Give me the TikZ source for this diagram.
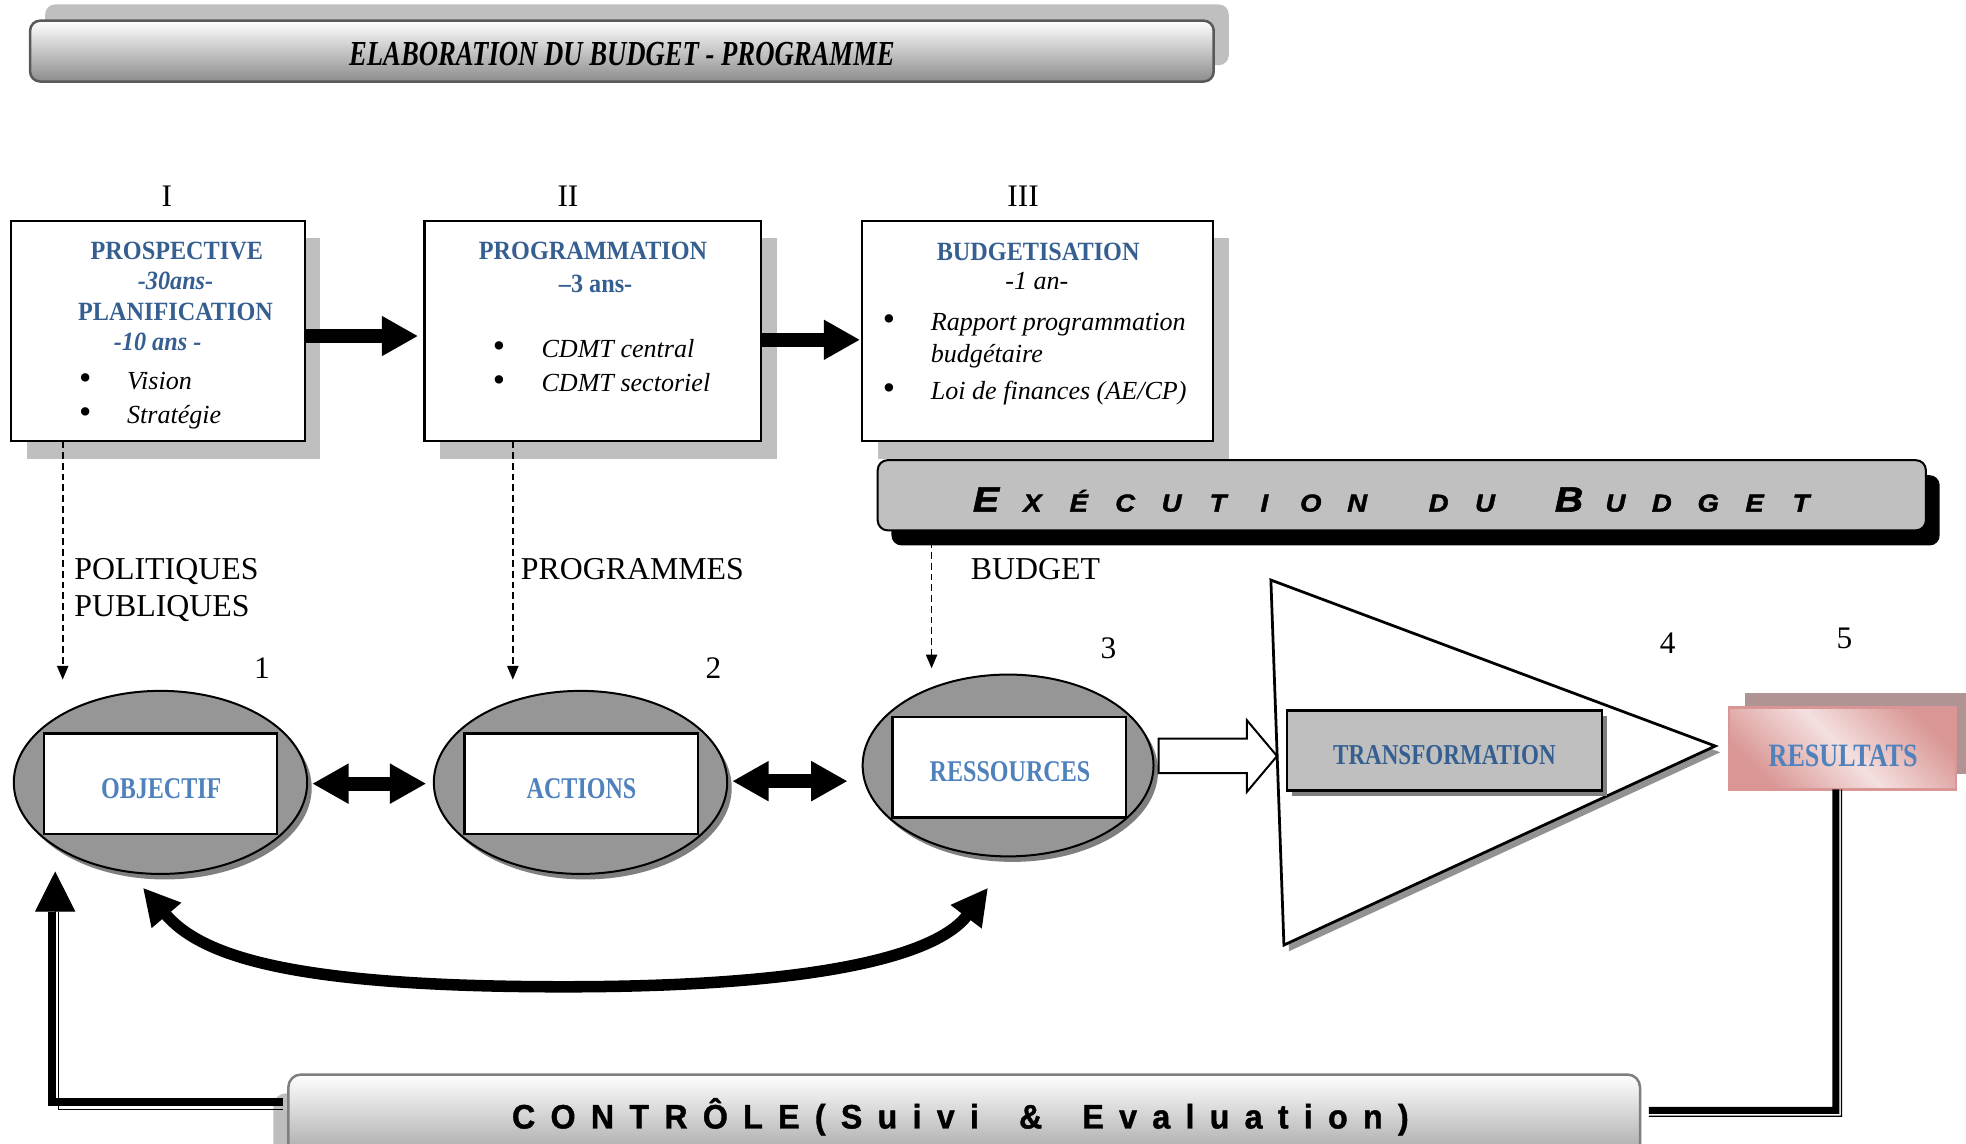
\documentclass[tikz,border=0pt]{standalone}
\usepackage{fontspec}
\usepackage{graphicx}
\setmainfont{Liberation Serif}
\newfontfamily\hdfont[FakeStretch=0.92]{Liberation Serif}
\newfontfamily\cdfont[FakeStretch=0.8]{Liberation Serif}
\newfontfamily\ttlfont[FakeStretch=0.76]{Liberation Serif}
\newfontfamily\bnfont[FakeStretch=1.12,FakeBold=1.6]{Liberation Sans}
\newfontfamily\ctfont[FakeStretch=0.95,FakeBold=1.2]{Liberation Sans}
\usetikzlibrary{arrows.meta,shadows,calc,shapes.geometric}

\definecolor{headblue}{RGB}{54,95,145}
\definecolor{lblue}{RGB}{79,129,189}
\definecolor{ovalgray}{RGB}{150,150,150}
\definecolor{shadegray}{RGB}{191,191,191}
\definecolor{midgray}{RGB}{127,127,127}
\definecolor{bargray}{RGB}{192,192,192}
\definecolor{edgegray}{RGB}{89,89,89}
\definecolor{pinkedge}{RGB}{217,150,148}
\definecolor{pinklight}{RGB}{244,224,223}
\definecolor{pinkshadow}{RGB}{176,148,148}

% letters set on a fixed pitch, or with a fixed tracking
\makeatletter
\newcommand\spreadword[2]{\@tfor\sw@ch:=#2\do{\makebox[#1][c]{\sw@ch}}}
\newcommand\trackword[2]{\@tfor\sw@ch:=#2\do{\sw@ch\kern#1}}
\makeatother
\newcommand\exebig{\fontsize{14}{16}\selectfont}

\tikzset{
  titlebar/.style={draw=edgegray, line width=1pt, rounded corners=4pt,
    top color=white, bottom color={rgb,255:red,140;green,140;blue,140},
    inner sep=0pt, outer sep=0pt,
    drop shadow={shadow xshift=6pt, shadow yshift=6.5pt, fill=shadegray, opacity=1}},
  stagebox/.style={draw, line width=0.9pt, fill=white, inner sep=0pt, outer sep=0pt,
    drop shadow={shadow xshift=6.25pt, shadow yshift=-7pt, fill=shadegray, opacity=1}},
  exebar/.style={draw, line width=0.8pt, rounded corners=4pt, fill=bargray,
    inner sep=0pt, outer sep=0pt, minimum width=418pt, minimum height=28pt,
    drop shadow={shadow xshift=5.5pt, shadow yshift=-6pt, fill=black, opacity=1}},
  ctrlbar/.style={draw=midgray, line width=1pt, rounded corners=5pt,
    top color=white, bottom color={rgb,255:red,150;green,150;blue,150},
    inner sep=0pt, outer sep=0pt, minimum width=539pt, minimum height=39pt,
    drop shadow={shadow xshift=-6pt, shadow yshift=-7.5pt, fill=midgray, opacity=0.5}},
  ovalnode/.style={ellipse, draw, line width=0.8pt, fill=ovalgray, inner sep=0pt, outer sep=0pt,
    minimum width=117pt, minimum height=73pt,
    drop shadow={shadow xshift=1.8pt, shadow yshift=-2.2pt, fill=midgray, opacity=1}},
  innerbox/.style={draw, line width=1pt, fill=white, inner sep=0pt, outer sep=0pt,
    minimum width=93pt, minimum height=40pt},
  transbox/.style={draw, line width=1.1pt, fill=shadegray, inner sep=0pt, outer sep=0pt,
    minimum width=125.6pt, minimum height=31.9pt,
    drop shadow={shadow xshift=2pt, shadow yshift=-2.2pt, fill=midgray, opacity=1}},
  resbox/.style={draw=pinkedge, line width=1.1pt, inner sep=0pt, outer sep=0pt,
    minimum width=90.5pt, minimum height=32.5pt,
    top color=pinkedge, bottom color=pinkedge, middle color=pinklight, shading angle=-45,
    drop shadow={shadow xshift=6.5pt, shadow yshift=6pt, fill=pinkshadow, opacity=1}},
  heading/.style={anchor=base, inner sep=0pt, text=headblue,
    font=\hdfont\bfseries\fontsize{10.5}{12}\selectfont},
  subhead/.style={heading, font=\hdfont\bfseries\itshape\fontsize{10.5}{12}\selectfont},
  itemtext/.style={anchor=base west, inner sep=0pt, font=\itshape\fontsize{10.4}{12}\selectfont},
  bulletmark/.style={anchor=base, inner sep=0pt, font=\fontsize{14}{16}\selectfont},
  plainlabel/.style={anchor=base west, inner sep=0pt, font=\fontsize{12.7}{14}\selectfont},
  numlabel/.style={anchor=base, inner sep=0pt, font=\fontsize{12.5}{14}\selectfont},
  ovallabel/.style={anchor=base, inner sep=0pt, text=lblue,
    font=\cdfont\bfseries\fontsize{12}{14}\selectfont},
  fatarrow/.style={line width=5.5pt, -{Triangle[length=14.5pt,width=15pt]}},
  dblarrow/.style={line width=5.5pt,
    {Triangle[length=14.5pt,width=15pt]}-{Triangle[length=14.5pt,width=15pt]}},
  dashlink/.style={line width=0.65pt, dash pattern=on 2.7pt off 1.6pt,
    -{Triangle[length=5.5pt,width=4.5pt]}},
  cyclearrow/.style={line width=4.6pt,
    {Triangle[length=14.5pt,width=14.5pt]}-{Triangle[length=14.5pt,width=14.5pt]}},
  thickret/.style={line width=2.8pt},
  thinret/.style={line width=0.5pt},
}

\begin{document}
\begin{tikzpicture}[x=0.5pt, y=-0.5pt]
\fill[white] (0,0) rectangle (1568,912);
\useasboundingbox (0,0) rectangle (1568,912);

% ---- title banner
\node[titlebar, minimum width=472pt, minimum height=24.25pt] (ttl) at (496,40.75) {};
\node[anchor=base, inner sep=0pt, font=\ttlfont\bfseries\itshape\fontsize{14}{16}\selectfont]
  (ttltxt) at (496,52) {ELABORATION DU BUDGET - PROGRAMME};

% ---- phase numbers
\node[numlabel] (rI) at (133,165) {I};
\node[numlabel] (rII) at (453,165) {II};
\node[numlabel] (rIII) at (816,165) {III};

% ---- the three preparation stages
\node[stagebox, minimum width=117pt, minimum height=88pt] (b1) at (126,264) {};
\node[stagebox, minimum width=134.25pt, minimum height=88pt] (b2) at (472.75,264) {};
\node[stagebox, minimum width=140pt, minimum height=88pt] (b3) at (827.5,264) {};

\node[heading] (b1h1) at (141,207) {PROSPECTIVE};
\node[subhead] (b1h2) at (140,230.5) {-30ans-};
\node[heading] (b1h3) at (140,255.5) {PLANIFICATION};
\node[subhead] (b1h4) at (125.7,279.5) {-10 ans -};
\node[bulletmark] (b1d1) at (68,311) {•};
\node[itemtext] (b1i1) at (101,311) {Vision};
\node[bulletmark] (b1d2) at (68,338) {•};
\node[itemtext] (b1i2) at (101,338) {Stratégie};

\node[heading] (b2h1) at (473,207) {PROGRAMMATION};
\node[heading] (b2h2) at (475,233) {–3 ans-};
\node[bulletmark] (b2d1) at (398,285) {•};
\node[itemtext] (b2i1) at (431.5,285) {CDMT central};
\node[bulletmark] (b2d2) at (398,312) {•};
\node[itemtext] (b2i2) at (431.5,312) {CDMT sectoriel};

\node[heading] (b3h1) at (828,207.5) {BUDGETISATION};
\node[anchor=base, inner sep=0pt, font=\itshape\fontsize{10.4}{12}\selectfont] (b3h2) at (827,231) {-1 an-};
\node[bulletmark] (b3d1) at (709,263.5) {•};
\node[itemtext] (b3i1) at (742,263.5) {Rapport programmation};
\node[itemtext] (b3i2) at (742,289.5) {budgétaire};
\node[bulletmark] (b3d2) at (709,318.5) {•};
\node[itemtext] (b3i3) at (742,318.5) {Loi de finances (AE/CP)};

\draw[fatarrow] ($(b1.east)+(0,4)$) -- ($(b2.west)+(-5,4)$);
\draw[fatarrow] ($(b2.east)+(0,7)$) -- ($(b3.west)+(-1.5,7)$);

% ---- execution banner
\node[exebar] (exe) at (1118,395) {};
\node[anchor=base west, inner sep=0pt, font=\bnfont\bfseries\itshape\fontsize{9.8}{11}\selectfont]
  (exetxt) at (767.5,408)
  {\spreadword{18.5pt}{{\exebig E}XÉCUTION}\hspace*{14pt}\spreadword{18.5pt}{DU}\hspace*{15pt}\spreadword{18.5pt}{{\exebig B}UDGET}};

% ---- dashed feeds into the cycle
\coordinate (t1) at (50,542);
\coordinate (t2) at (409,542);
\coordinate (t3) at (743,533);
\draw[dashlink] ($(b1.south west)+(41,0)$) -- (t1);
\draw[dashlink] ($(b2.south west)+(70.5,0)$) -- (t2);
\draw[dashlink] ($(exe.south west)+(43,0)$) -- (t3);

\node[plainlabel] (lpol) at (59,462) {POLITIQUES};
\node[plainlabel] (lpub) at (59,491.5) {PUBLIQUES};
\node[plainlabel] (lprg) at (415,462) {PROGRAMMES};
\node[plainlabel] (lbud) at (774,462) {BUDGET};

\node[numlabel] (n1) at (209,541) {1};
\node[numlabel] (n2) at (569,541) {2};
\node[numlabel] (n3) at (884,525) {3};
\node[numlabel] (n4) at (1330,521) {4};
\node[numlabel] (n5) at (1471,517) {5};

% ---- cycle of ovals
\node[ovalnode] (e1) at (128,624) {};
\node[innerbox] (r1) at (128,625) {};
\node[ovallabel] (l1) at (128.6,637) {OBJECTIF};

\node[ovalnode] (e2) at (463,624) {};
\node[innerbox] (r2) at (463.5,625) {};
\node[ovallabel] (l2) at (463.8,637) {ACTIONS};

\node[ovalnode, minimum width=116pt, minimum height=72.5pt] (e3) at (804,610.5) {};
\node[innerbox] (r3) at (805,612) {};
\node[ovallabel] (l3) at (805.5,623.4) {RESSOURCES};

\draw[dblarrow] ($(e1.east)+(4,1)$) -- ($(e2.west)+(-6,1)$);
\draw[dblarrow] ($(e2.east)+(4,-1)$) -- ($(e3.west)+(-12,12.5)$);

\coordinate (cvL) at ($(e1.south)+(-14,11)$);
\coordinate (cvR) at ($(e3.south)+(-16,25)$);
\coordinate (cvM) at (450,787);
\draw[cyclearrow] (cvL) .. controls (160,762) and (230,787) .. (cvM)
  .. controls (640,787) and (745,765) .. (cvR);

% ---- hollow arrow into the transformation funnel
\begin{scope}[shift={($(e3.east)+(4,-7.5)$)}]
  \draw[line width=0.8pt, fill=white, line join=miter]
    (0,-14) -- (70.5,-14) -- (70.5,-28.5) -- (94.5,0) -- (70.5,28.5) -- (70.5,13.5) -- (0,13.5) -- cycle;
\end{scope}

% ---- funnel
\coordinate (tA) at (1013.6,462.6);
\coordinate (tB) at (1024,753.7);
\coordinate (tC) at (1368,595);
\fill[midgray!85] ([shift={(4,5)}]tA) -- ([shift={(4,5)}]tB) -- ([shift={(4,5)}]tC) -- cycle;
\draw[line width=1.1pt, fill=white, line join=miter] (tA) -- (tB) -- (tC) -- cycle;

\node[transbox] (tr) at (1152,598.7) {};
\node[ovallabel, text=headblue, font=\cdfont\bfseries\fontsize{11.5}{13}\selectfont] (trtxt) at (1152,610) {TRANSFORMATION};

\node[resbox] (res) at (1469.5,597) {};
\node[ovallabel, font=\cdfont\bfseries\fontsize{13}{15}\selectfont] (restxt) at (1470,611.5) {RESULTATS};

% ---- control banner and feedback loop
\node[ctrlbar] (ctrl) at (769,896) {};
\node[anchor=base west, inner sep=0pt, font=\ctfont\bfseries\fontsize{13.5}{16}\selectfont]
  (ctrltxt) at (408,900)
  {\trackword{6.1pt}{CONTRÔLE(Suivi}\hspace*{9.9pt}\trackword{6.1pt}{\&}\hspace*{9.9pt}\trackword{6.1pt}{Evaluation)}};

% results down to the control banner
\draw[thickret] ($(res.south)+(-5.3,0)$) -- (1464.2,885.5) -- ($(ctrl.east)+(7,-10.5)$);
\draw[thinret] ($(res.south)+(-0.9,0)$) -- (1468.6,890.3) -- ($(ctrl.east)+(7,-5.7)$);

% control banner back to the objective
\coordinate (fbtip) at ($(e1)+(-84,71)$);
\draw[thickret, line width=3pt] ($(ctrl.west)+(-4,-17)$) -- (41.6,879) -- (41.6,727);
\draw[thinret, line width=0.6pt] ($(ctrl.west)+(-4,-11)$) -- (46.5,885) -- (46.5,727);
\draw[line width=0.4pt, -{Triangle[length=16pt,width=16pt]}] (44,727.5) -- (fbtip);
\end{tikzpicture}
\end{document}
